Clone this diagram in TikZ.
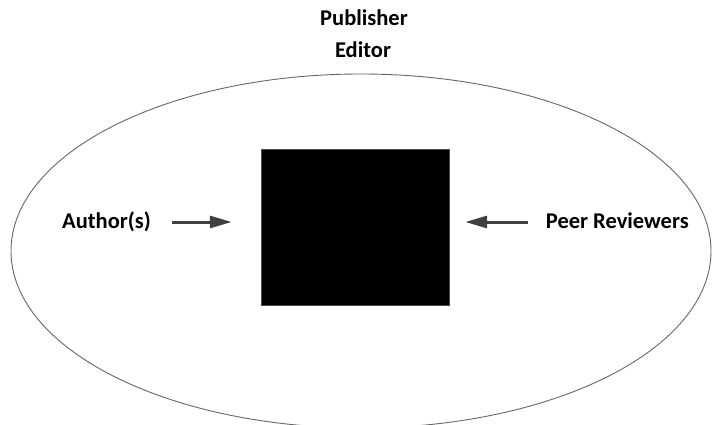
\documentclass[tikz,border=0pt]{standalone}
\usepackage{fontspec}
\setmainfont{Carlito}
\usetikzlibrary{arrows.meta,positioning}
\newcommand{\fs}{\fontsize{22.5}{25}\selectfont\bfseries}

\begin{document}
\begin{tikzpicture}[x=1pt,y=-1pt,
  lbl/.style={font=\fs,inner sep=0pt,anchor=base},
  arr/.style={draw=black!75,line width=3pt,-{Triangle[length=22pt,width=12pt]}}]
\useasboundingbox (0,0) rectangle (712,425);
\begin{scope}
\clip (0,0) rectangle (712,425);
\draw[black!60,line width=0.9pt] (361,251) ellipse [x radius=350,y radius=177];
\end{scope}
\node[lbl] (pub) at (364,26) {Publisher};
\node[lbl] (ed) at (363,58) {Editor};
\node[draw=black!70,fill=black,minimum width=188pt,minimum height=156pt,inner sep=0pt] (box) at (355,227) {};
\node[lbl,anchor=base west] (auth) at (62,228) {Author(s)};
\node[lbl,anchor=base east] (peer) at (689,228) {Peer Reviewers};
\draw[arr] ([xshift=21pt,yshift=6pt]auth.base east) -- ([xshift=-29pt,yshift=5pt]box.west);
\draw[arr] ([xshift=-18pt,yshift=6pt]peer.base west) -- ([xshift=16pt,yshift=5pt]box.east);
\end{tikzpicture}
\end{document}
